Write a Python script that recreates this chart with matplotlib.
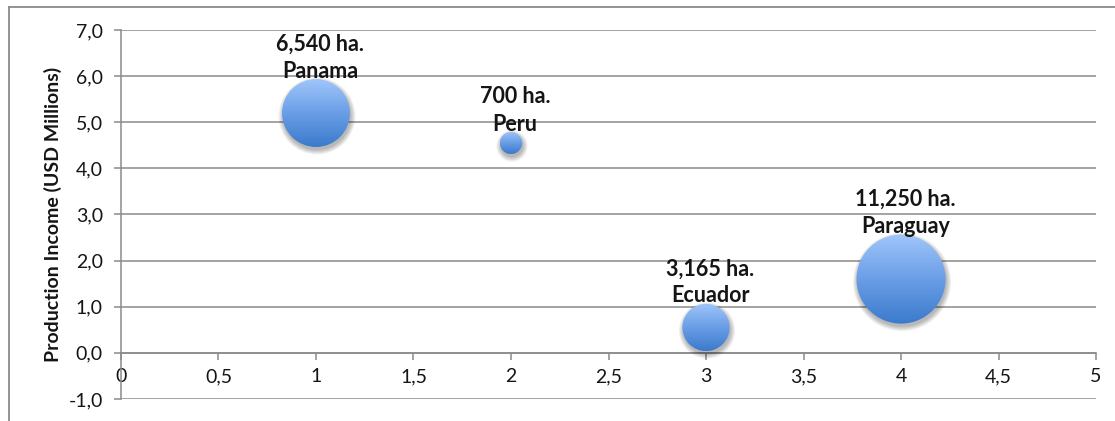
import numpy as np
import matplotlib
matplotlib.use("Agg")
import matplotlib.pyplot as plt
import matplotlib.transforms as mtransforms
from matplotlib.patches import Circle
from matplotlib.lines import Line2D
from matplotlib.colors import LinearSegmentedColormap

# Data
countries = ["Panama", "Peru", "Ecuador", "Paraguay"]
x_values = [1, 2, 3, 4]
income_musd = [5.2, 4.55, 0.55, 1.6]
hectares = [6540, 700, 3165, 11250]
hectare_labels = ["6,540 ha.", "700 ha.", "3,165 ha.", "11,250 ha."]

x_ticks = [0, 0.5, 1, 1.5, 2, 2.5, 3, 3.5, 4, 4.5, 5]
x_tick_labels = ["0", "0,5", "1", "1,5", "2", "2,5", "3", "3,5", "4", "4,5", "5"]
y_ticks = [-1, 0, 1, 2, 3, 4, 5, 6, 7]
y_tick_labels = ["-1,0", "0,0", "1,0", "2,0", "3,0", "4,0", "5,0", "6,0", "7,0"]

plt.rcParams["font.family"] = ["Lato", "DejaVu Sans"]

DPI = 100
fig = plt.figure(figsize=(11.15, 4.21), dpi=DPI)
ax = fig.add_axes([0.1085, 0.0523, 0.983 - 0.1085, 0.9287 - 0.0523])

grid_color = "#8a8a8a"
text_color = "#151515"

# outer chart frame (top and left edges)
fig.add_artist(Line2D([9 / 1115, 1.0], [1 - 6.5 / 421, 1 - 6.5 / 421],
                      transform=fig.transFigure, color=grid_color, lw=1.3))
fig.add_artist(Line2D([9 / 1115, 9 / 1115], [0, 1 - 6.5 / 421],
                      transform=fig.transFigure, color=grid_color, lw=1.3))

# horizontal gridlines
for yv in y_ticks:
    ax.axhline(yv, color=grid_color, lw=1.1, zorder=1)

# bubble fill gradient (light top, darker bottom)
cmap = LinearSegmentedColormap.from_list(
    "bubble", ["#3b7acc", "#6a9ee6", "#a0c6fb"])
grad = np.linspace(0, 1, 256).reshape(-1, 1)

# bubble area proportional to hectares
px_per_sqrt_ha = 0.42

for xv, yv, ha, name, lab in zip(x_values, income_musd, hectares,
                                 countries, hectare_labels):
    r_px = px_per_sqrt_ha * np.sqrt(ha)
    centre = mtransforms.ScaledTranslation(xv, yv, ax.transData)
    trans = mtransforms.Affine2D().scale(r_px) + centre

    # soft drop shadow
    for k in range(6):
        sh = Circle((0, 0), 1 + (k * 0.9) / r_px,
                    transform=mtransforms.Affine2D().scale(r_px)
                    .translate(1.0, -3.0) + centre,
                    facecolor="black", edgecolor="none",
                    alpha=0.05, zorder=2)
        ax.add_patch(sh)

    clip = Circle((0, 0), 1, transform=trans, facecolor="none",
                  edgecolor="none", zorder=3)
    ax.add_patch(clip)
    im = ax.imshow(grad, extent=(-1, 1, -1, 1), origin="lower", cmap=cmap,
                   aspect="auto", interpolation="bilinear",
                   transform=trans, zorder=3)
    im.set_clip_path(clip)

    r_pt = r_px * 72 / DPI
    ax.annotate(name, xy=(xv, yv), xytext=(3, r_pt + 1.0),
                textcoords="offset points", ha="center", va="baseline",
                fontsize=15.5, fontweight="bold", color=text_color, zorder=5)
    ax.annotate(lab, xy=(xv, yv), xytext=(3, r_pt + 1.0 + 19.5),
                textcoords="offset points", ha="center", va="baseline",
                fontsize=15.5, fontweight="bold", color=text_color, zorder=5)

ax.set_xlim(0, 5)
ax.set_ylim(-1, 7)

ax.set_xticks(x_ticks)
ax.set_xticklabels(x_tick_labels)
ax.set_yticks(y_ticks)
ax.set_yticklabels(y_tick_labels)

for side in ["top", "right"]:
    ax.spines[side].set_visible(False)
ax.spines["bottom"].set_position(("data", 0))
ax.spines["bottom"].set_color(grid_color)
ax.spines["bottom"].set_linewidth(1.1)
ax.spines["left"].set_color(grid_color)
ax.spines["left"].set_linewidth(1.1)
ax.spines["bottom"].set_zorder(1.5)

ax.tick_params(axis="x", direction="out", length=5, width=1.1,
               color=grid_color, pad=6, labelsize=14, labelcolor=text_color)
ax.tick_params(axis="y", direction="out", length=5, width=1.1,
               color=grid_color, pad=8, labelsize=14, labelcolor=text_color)

ax.set_ylabel("Production Income (USD Millions)", fontsize=14,
              fontweight="bold", color=text_color, labelpad=5)
ax.patch.set_alpha(0)

fig.savefig("out.png", dpi=DPI, facecolor="white")
